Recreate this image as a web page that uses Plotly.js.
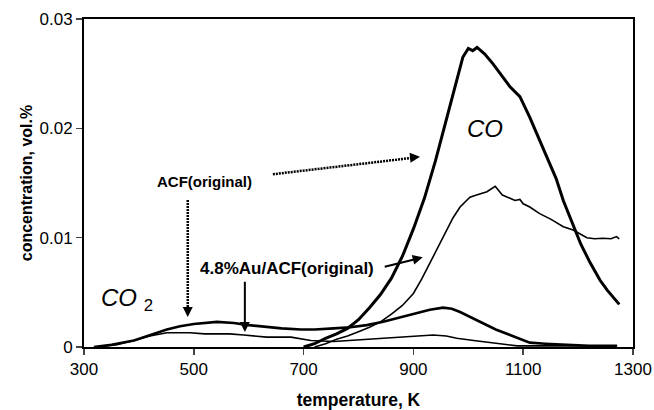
<!DOCTYPE html>
<html><head><meta charset="utf-8">
<script src="https://cdn.plot.ly/plotly-3.0.1.min.js"></script>
<style>html,body{margin:0;padding:0;background:#fff}#chart{width:654px;height:410px}</style>
</head><body><div id="chart"></div>
<script>
// ACF(original) CO
const acfCoT = [700,720,740,760,780,800,820,840,860,880,900,920,940,960,975,990,1000,1008,1016,1030,1045,1060,1076,1094,1112,1130,1143,1160,1173,1190,1205,1222,1240,1253,1265,1275];
const acfCoC = [0,0.0003,0.0008,0.0012,0.0017,0.0025,0.0036,0.0048,0.0063,0.0083,0.0108,0.0136,0.0170,0.0209,0.0238,0.0265,0.0273,0.0271,0.0274,0.0268,0.0259,0.0249,0.0238,0.0229,0.0210,0.0189,0.0174,0.0154,0.0134,0.0112,0.0094,0.0077,0.0061,0.0052,0.0045,0.0039];
// 4.8%Au/ACF(original) CO
const auCoT = [720,740,760,780,800,820,840,860,880,900,915,930,945,960,972,985,1003,1015,1034,1049,1055,1062,1076,1085,1094,1100,1112,1130,1150,1173,1191,1205,1216,1230,1245,1260,1270,1275];
const auCoC = [0,0.0003,0.0007,0.0010,0.0014,0.0018,0.0023,0.0030,0.0038,0.0049,0.0062,0.0077,0.0092,0.0107,0.0118,0.0128,0.0137,0.0139,0.0142,0.0147,0.0143,0.0139,0.0136,0.0134,0.0135,0.0131,0.0128,0.0122,0.0117,0.0110,0.0107,0.0103,0.0100,0.0099,0.00995,0.0099,0.0101,0.0099];
// ACF(original) CO2
const acfCo2T = [318,350,391,420,451,475,500,542,573,600,633,660,695,720,755,785,815,845,875,906,930,954,970,985,1005,1027,1050,1076,1095,1112,1140,1180,1220,1271];
const acfCo2C = [0,0.0002,0.0006,0.0011,0.0016,0.0019,0.0021,0.0023,0.0022,0.0020,0.0018,0.0017,0.0016,0.0016,0.0017,0.0018,0.0020,0.0023,0.0027,0.0031,0.0034,0.0036,0.0035,0.0032,0.0027,0.0022,0.0016,0.0011,0.0007,0.0004,0.0003,0.0002,0.0001,0.0001];
// 4.8%Au/ACF(original) CO2
const auCo2T = [325,360,391,420,451,475,493,520,542,565,591,633,677,713,755,785,815,845,890,936,960,979,1010,1040,1065,1089,1150,1271];
const auCo2C = [0,0.0002,0.0006,0.0010,0.0013,0.0013,0.0013,0.0012,0.0012,0.0012,0.0011,0.0009,0.0009,0.0006,0.0005,0.0006,0.0007,0.0008,0.0009,0.0011,0.0010,0.0008,0.0006,0.0004,0.0002,0.0001,0.0001,0.0001];

const xTicks = [300,500,700,900,1100,1300];
const yTicks = [0,0.01,0.02,0.03];
const yTickText = ['0','0.01','0.02','0.03'];

const F = 'Arial, "Liberation Sans", sans-serif';
const thick = {color:'#000', width:3};
const thin = {color:'#000', width:1.6};

const traces = [
  {x:acfCoT, y:acfCoC, mode:'lines', line:thick, name:'ACF CO'},
  {x:auCoT, y:auCoC, mode:'lines', line:thin, name:'Au CO'},
  {x:acfCo2T, y:acfCo2C, mode:'lines', line:{color:'#000', width:2.6}, name:'ACF CO2'},
  {x:auCo2T, y:auCo2C, mode:'lines', line:thin, name:'Au CO2'}
];

const dotLine = {color:'#000', width:2.5, dash:'2px,1px'};
const layout = {
  width:654, height:410,
  margin:{l:84, r:21, t:19, b:63},
  paper_bgcolor:'#fff', plot_bgcolor:'#fff',
  showlegend:false,
  font:{family:F, color:'#000'},
  xaxis:{range:[300,1300], tickvals:xTicks, ticks:'outside', ticklen:6, tickwidth:1.5,
    showline:true, linewidth:2, linecolor:'#000', mirror:true, showgrid:false, zeroline:false,
    tickfont:{size:17, family:F},
    title:{text:'<b>temperature, K</b>', font:{size:17.5, family:F}, standoff:16}},
  yaxis:{range:[0,0.03], tickvals:yTicks, ticktext:yTickText, ticks:'outside', ticklen:6, tickwidth:1.5,
    showline:true, linewidth:2, linecolor:'#000', mirror:true, showgrid:false, zeroline:false,
    tickfont:{size:17, family:F},
    title:{text:'<b>concentration, vol.%</b>', font:{size:16, family:F}, standoff:3}},
  shapes:[
    {type:'line', xref:'x', yref:'y', x0:644, y0:0.0158, x1:898, y1:0.0173, line:dotLine},
    {type:'line', xref:'x', yref:'y', x0:489, y0:0.01345, x1:489, y1:0.0036, line:dotLine}
  ],
  annotations:[
    {x:520, y:0.0151, xref:'x', yref:'y', text:'<b>ACF(original)</b>', showarrow:false, font:{size:15, family:F}},
    {x:669, y:0.00714, xref:'x', yref:'y', text:'<b>4.8%Au/ACF(original)</b>', showarrow:false, font:{size:17, family:F}},
    {x:1031, y:0.0200, xref:'x', yref:'y', text:'<i>CO</i>', showarrow:false, font:{size:24, family:F}},
    {x:378, y:0.0043, xref:'x', yref:'y', text:'<i>CO</i> <sub>2</sub>', showarrow:false, font:{size:24, family:F}},
    // arrow heads for dotted arrows
    {x:912, y:0.0174, xref:'x', yref:'y', ax:-10, ay:1, text:'', showarrow:true, arrowhead:2, arrowsize:1, arrowwidth:2, arrowcolor:'#000'},
    {x:489, y:0.00275, xref:'x', yref:'y', ax:0, ay:-10, text:'', showarrow:true, arrowhead:2, arrowsize:1, arrowwidth:2, arrowcolor:'#000'},
    // solid arrows
    {x:917, y:0.0082, xref:'x', yref:'y', axref:'x', ayref:'y', ax:845, ay:0.0073, text:'', showarrow:true, arrowhead:2, arrowsize:1, arrowwidth:2, arrowcolor:'#000'},
    {x:593, y:0.00137, xref:'x', yref:'y', axref:'x', ayref:'y', ax:593, ay:0.0061, text:'', showarrow:true, arrowhead:2, arrowsize:1, arrowwidth:2, arrowcolor:'#000'}
  ]
};
Plotly.newPlot('chart', traces, layout, {staticPlot:true, displayModeBar:false});
</script></body></html>
